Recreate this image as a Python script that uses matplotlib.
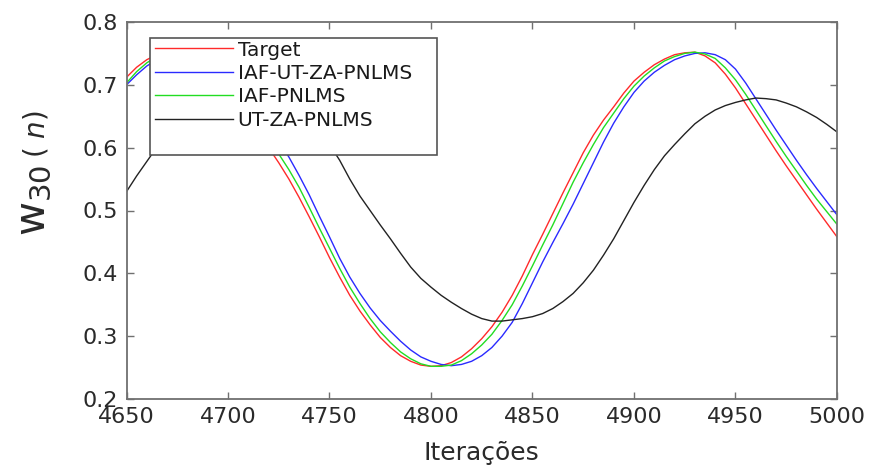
import matplotlib
matplotlib.use("Agg")
import matplotlib.pyplot as plt
from matplotlib.patches import Rectangle

# ---------------- data ----------------
iters = list(range(4650, 5001, 5))

target = [0.712, 0.728, 0.740, 0.748, 0.751, 0.750, 0.745, 0.737, 0.725, 0.710,
          0.692, 0.672, 0.650, 0.626, 0.600, 0.576, 0.550, 0.521, 0.490, 0.458,
          0.425, 0.394, 0.365, 0.340, 0.318, 0.298, 0.282, 0.269, 0.260, 0.254,
          0.252, 0.253, 0.258, 0.267, 0.280, 0.296, 0.315, 0.338, 0.365, 0.396,
          0.430, 0.462, 0.495, 0.528, 0.560, 0.592, 0.620, 0.644, 0.665, 0.687,
          0.706, 0.720, 0.732, 0.741, 0.748, 0.751, 0.752, 0.746, 0.735, 0.717,
          0.695, 0.670, 0.645, 0.620, 0.595, 0.571, 0.548, 0.525, 0.502, 0.480,
          0.458]

iaf_ut_za = [0.700, 0.716, 0.730, 0.740, 0.746, 0.749, 0.750, 0.747, 0.740, 0.729,
             0.715, 0.699, 0.680, 0.658, 0.635, 0.610, 0.585, 0.556, 0.525, 0.491,
             0.458, 0.424, 0.394, 0.368, 0.345, 0.325, 0.308, 0.292, 0.278, 0.267,
             0.260, 0.255, 0.253, 0.255, 0.260, 0.269, 0.282, 0.300, 0.322, 0.352,
             0.385, 0.418, 0.449, 0.479, 0.510, 0.543, 0.576, 0.609, 0.639, 0.665,
             0.688, 0.706, 0.720, 0.731, 0.740, 0.746, 0.750, 0.751, 0.748, 0.740,
             0.725, 0.703, 0.678, 0.653, 0.628, 0.604, 0.580, 0.557, 0.535, 0.514,
             0.493]

iaf = [0.703, 0.721, 0.735, 0.745, 0.750, 0.751, 0.748, 0.742, 0.732, 0.718,
       0.702, 0.683, 0.662, 0.639, 0.615, 0.590, 0.565, 0.537, 0.505, 0.472,
       0.440, 0.408, 0.378, 0.352, 0.328, 0.307, 0.290, 0.275, 0.264, 0.256,
       0.252, 0.252, 0.254, 0.261, 0.272, 0.286, 0.303, 0.325, 0.350, 0.380,
       0.412, 0.445, 0.477, 0.511, 0.545, 0.576, 0.605, 0.632, 0.655, 0.678,
       0.698, 0.714, 0.727, 0.738, 0.745, 0.750, 0.752, 0.749, 0.742, 0.727,
       0.708, 0.685, 0.660, 0.635, 0.610, 0.586, 0.563, 0.540, 0.518, 0.498,
       0.478]

ut_za = [0.530, 0.555, 0.578, 0.601, 0.622, 0.640, 0.655, 0.666, 0.673, 0.678,
         0.680, 0.680, 0.678, 0.675, 0.670, 0.663, 0.655, 0.646, 0.635, 0.622,
         0.605, 0.580, 0.550, 0.523, 0.500, 0.477, 0.455, 0.432, 0.410, 0.392,
         0.378, 0.365, 0.354, 0.344, 0.335, 0.328, 0.324, 0.324, 0.326, 0.328,
         0.331, 0.336, 0.344, 0.355, 0.368, 0.385, 0.405, 0.429, 0.455, 0.484,
         0.513, 0.540, 0.565, 0.587, 0.605, 0.622, 0.638, 0.650, 0.660, 0.667,
         0.672, 0.676, 0.679, 0.678, 0.676, 0.671, 0.665, 0.657, 0.648, 0.637,
         0.625]

labels = ["Target", "IAF-UT-ZA-PNLMS", "IAF-PNLMS", "UT-ZA-PNLMS"]
colors = ["#ff2a2a", "#2a2aff", "#22dd22", "#222222"]

x_ticks = [4650, 4700, 4750, 4800, 4850, 4900, 4950, 5000]
y_ticks = [0.2, 0.3, 0.4, 0.5, 0.6, 0.7, 0.8]

# ---------------- figure ----------------
W, H = 869, 468
fig = plt.figure(figsize=(W / 100, H / 100), dpi=100)
ax = fig.add_axes([126.5 / W, 1 - 399 / H, 710.5 / W, 377 / H])

series = [target, iaf_ut_za, iaf, ut_za]
for ys, lab, c in zip(series, labels, colors):
    ax.plot(iters, ys, color=c, lw=1.0, label=lab, zorder=2)

ax.set_xlim(4650, 5000)
ax.set_ylim(0.2, 0.8)
ax.set_xticks(x_ticks)
ax.set_xticklabels([str(v) for v in x_ticks])
ax.set_yticks(y_ticks)
ax.set_yticklabels([f"{v:.1f}" for v in y_ticks])

axcol = "#707070"
for s in ax.spines.values():
    s.set_color(axcol)
    s.set_linewidth(1.3)
ax.tick_params(direction="in", length=5, width=1, color=axcol,
               top=True, right=True, labelsize=16, labelcolor="#2a2a2a", pad=6)

ax.set_xlabel("Iterações", fontsize=18, color="#2a2a2a", labelpad=10)

# y label: large "w" with subscript, smaller "( n)"
fig.text(45 / W, 1 - 236 / H, r"$\mathrm{w}_{30}$", fontsize=30, rotation=90,
         rotation_mode="anchor", ha="left", va="baseline", color="#2a2a2a")
fig.text(45 / W, 1 - 158 / H, r"( $n$)", fontsize=20, rotation=90,
         rotation_mode="anchor", ha="left", va="baseline", color="#2a2a2a")

# legend box
x0 = (150 - 126.5) / 710.5
x1 = (437 - 126.5) / 710.5
yt = (399 - 38) / 377
yb = (399 - 155) / 377
ax.add_patch(Rectangle((x0, yb), x1 - x0, yt - yb, transform=ax.transAxes,
                       facecolor="white", edgecolor="#555555", lw=1.2, zorder=4))
leg = ax.legend(loc="upper left", bbox_to_anchor=((155 - 126.5) / 710.5, (399 - 40.5) / 377),
                frameon=False, borderpad=0, borderaxespad=0, fontsize=14.5,
                handlelength=3.85, handletextpad=0.25, labelspacing=0.22)
leg.set_zorder(5)
for t in leg.get_texts():
    t.set_color("#1a1a1a")

fig.savefig("out.png", dpi=100)
